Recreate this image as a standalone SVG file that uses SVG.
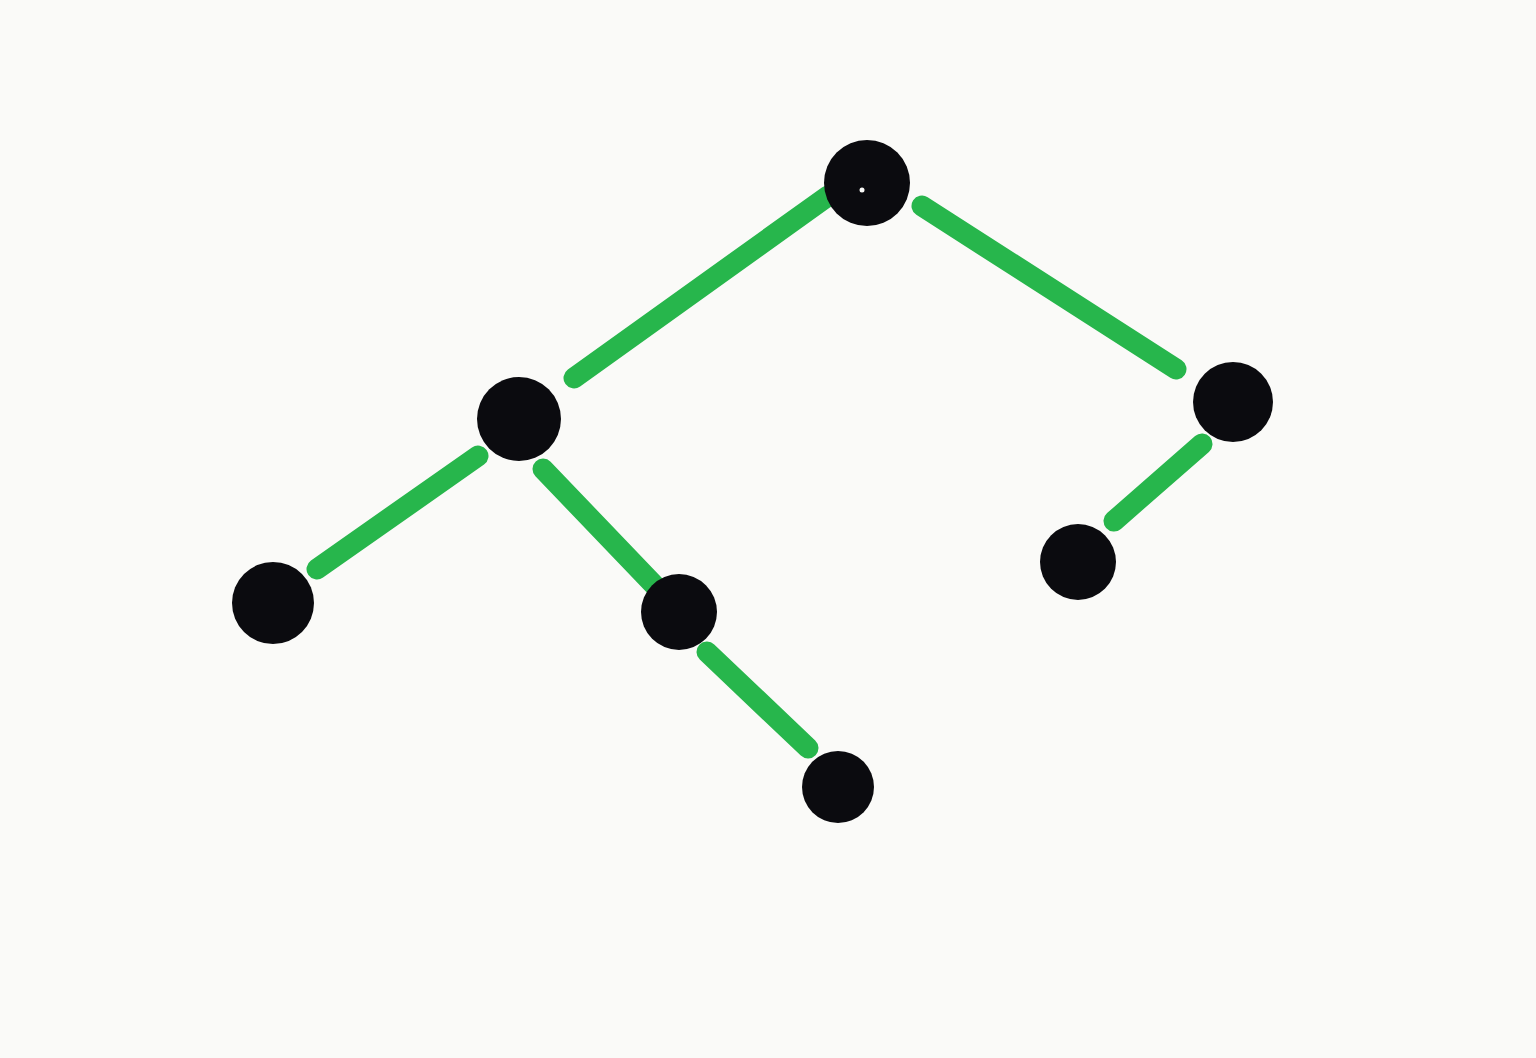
<svg xmlns="http://www.w3.org/2000/svg" width="1536" height="1058" viewBox="0 0 1536 1058">
<style>
.edge{stroke:#27b64c;stroke-width:21;stroke-linecap:round;fill:none}
.node{fill:#0b0b0f}
</style>
<rect x="0" y="0" width="1536" height="1058" fill="#fafaf8"/>
<g id="connectors">
<line class="edge" x1="828" y1="196" x2="574" y2="378"/>
<line class="edge" x1="922" y1="206" x2="1176" y2="369"/>
<line class="edge" x1="478" y1="456" x2="317" y2="569"/>
<line class="edge" x1="543" y1="469" x2="657" y2="588"/>
<line class="edge" x1="707" y1="652" x2="808" y2="748"/>
<line class="edge" x1="1202" y1="444" x2="1114" y2="521"/>
</g>
<g id="n-root"><circle class="node" cx="867" cy="183" r="43"/><circle cx="862" cy="190" r="2.5" fill="#fafaf8"/></g>
<g id="n-left"><circle class="node" cx="519" cy="419" r="42"/></g>
<g id="n-right"><circle class="node" cx="1233" cy="402" r="40"/></g>
<g id="n-ll"><circle class="node" cx="273" cy="603" r="41"/></g>
<g id="n-lr"><circle class="node" cx="679" cy="612" r="38"/></g>
<g id="n-lrr"><circle class="node" cx="838" cy="787" r="36"/></g>
<g id="n-rl"><circle class="node" cx="1078" cy="562" r="38"/></g>
</svg>
